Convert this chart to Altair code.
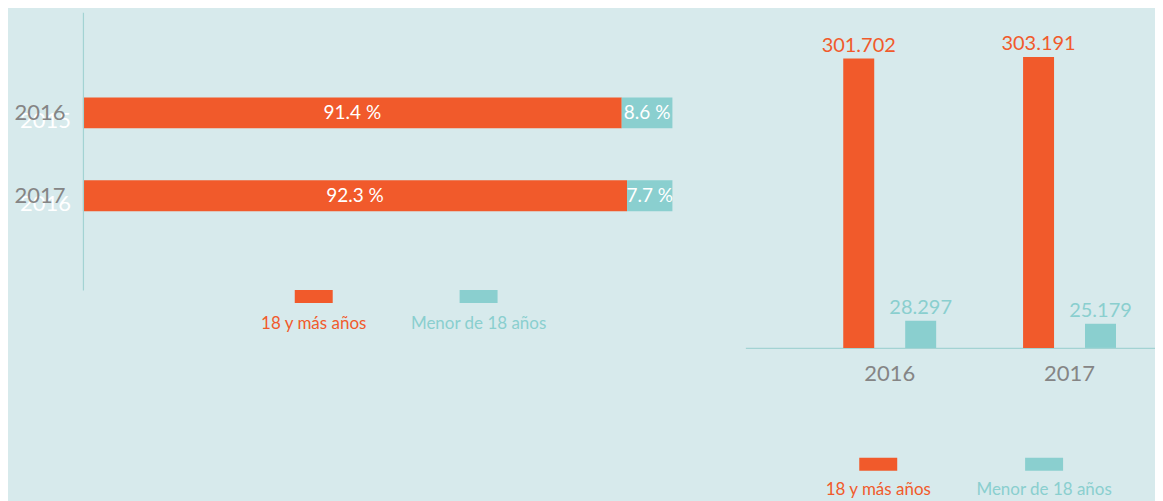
import altair as alt
import pandas as pd

# ---------------- data ----------------
years = ["2016", "2017"]
ghost_years = ["2015", "2016"]
pct_adult = [91.4, 92.3]
pct_minor = [8.6, 7.7]
count_adult = [301702, 303191]
count_minor = [28297, 25179]
groups = ["18 y más años", "Menor de 18 años"]
colors = ["#F15A2B", "#8ACFCF"]

BG = "#D7EAEC"
GREY = "#858585"
AXIS = "#A3D3D3"
FONT = "Lato"

color_scale = alt.Scale(domain=groups, range=colors)

# ---------------- left: 100% stacked bars ----------------
rows = []
for i, y in enumerate(years):
    a, m = pct_adult[i], pct_minor[i]
    rows.append({"year": y, "group": groups[0], "start": 0.0, "end": a,
                 "mid": a / 2, "label": f"{a:.1f} %"})
    rows.append({"year": y, "group": groups[1], "start": a, "end": a + m,
                 "mid": a + m / 2, "label": f"{m:.1f} %"})
pct_df = pd.DataFrame(rows)
ghost_df = pd.DataFrame({"year": years, "ghost": ghost_years})

y_left = alt.Y(
    "year:N",
    sort=years,
    scale=alt.Scale(paddingInner=0.627, paddingOuter=0.988, align=0.52),
    axis=alt.Axis(title=None, domain=True, domainColor=AXIS, domainWidth=1.2,
                  ticks=False, labelColor=GREY, labelFontSize=22,
                  labelPadding=18, labelFont=FONT, zindex=1),
)
x_left = alt.X("start:Q", scale=alt.Scale(domain=[0, 100]), axis=None)

left_bars = alt.Chart(pct_df).mark_bar().encode(
    y=y_left, x=x_left, x2="end:Q",
    color=alt.Color("group:N", scale=color_scale, legend=None),
)
left_text = alt.Chart(pct_df).mark_text(
    color="white", fontSize=19, font=FONT, baseline="middle"
).encode(y=alt.Y("year:N", sort=years), x=alt.X("mid:Q"), text="label:N")
ghost = alt.Chart(ghost_df).mark_text(
    color="white", fontSize=22, font=FONT, align="right", baseline="middle", dy=8
).encode(y=alt.Y("year:N", sort=years), x=alt.value(-12), text="ghost:N")

left_chart = alt.layer(ghost, left_bars, left_text).properties(width=590, height=278)

legend_df = pd.DataFrame({"group": groups})
SWATCH = "M-1,-0.342L1,-0.342L1,0.342L-1,0.342Z"


def legend(width, rng, ty):
    x = alt.X("group:N", sort=groups, axis=None,
              scale=alt.Scale(type="point", domain=groups, range=rng, padding=0))
    sw = alt.Chart(legend_df).mark_point(
        shape=SWATCH, size=1444, filled=True, opacity=1
    ).encode(x=x, y=alt.value(6.5),
             color=alt.Color("group:N", scale=color_scale, legend=None))
    tx = alt.Chart(legend_df).mark_text(
        fontSize=17, font=FONT, baseline="middle"
    ).encode(x=x, y=alt.value(ty), text="group:N",
             color=alt.Color("group:N", scale=color_scale, legend=None))
    return alt.layer(sw, tx).properties(width=width, height=45)


left_col = alt.vconcat(left_chart, legend(590, [231, 396], 34), spacing=0)

# ---------------- right: grouped bars ----------------
crow = []
for i, y in enumerate(years):
    crow.append({"year": y, "group": groups[0], "value": count_adult[i]})
    crow.append({"year": y, "group": groups[1], "value": count_minor[i]})
cnt_df = pd.DataFrame(crow)
cnt_df["label"] = cnt_df["value"].map(lambda v: f"{v:,}".replace(",", "."))

x_right = alt.X(
    "year:N", sort=years,
    scale=alt.Scale(paddingInner=0.311, paddingOuter=0.2945, align=0.778),
    axis=alt.Axis(title=None, domain=True, domainColor=AXIS, domainWidth=1.2,
                  ticks=False, labelColor=GREY, labelFontSize=22, labelAngle=0,
                  labelPadding=16, labelFont=FONT),
)
xoff = alt.XOffset("group:N", sort=groups,
                   scale=alt.Scale(paddingInner=0.5, paddingOuter=0.25))
y_right = alt.Y("value:Q", scale=alt.Scale(domain=[0, 350000]), axis=None)

r_bars = alt.Chart(cnt_df).mark_bar().encode(
    x=x_right, xOffset=xoff, y=y_right,
    color=alt.Color("group:N", scale=color_scale, legend=None),
)
r_text = alt.Chart(cnt_df).mark_text(
    fontSize=20, font=FONT, baseline="bottom", dy=-3
).encode(
    x=x_right, xOffset=xoff, y=y_right, text="label:N",
    color=alt.Color("group:N", scale=color_scale, legend=None),
)
right_chart = alt.layer(r_bars, r_text).properties(width=410, height=336)
right_col = alt.vconcat(right_chart, legend(410, [133, 299], 32), spacing=73)

chart = alt.hconcat(left_col, right_col, spacing=72).properties(
    background=BG,
    padding={"left": 5, "top": 4, "right": 0, "bottom": 0},
    usermeta={"embedOptions": {"defaultStyle": "body{background:#D7EAEC;}"}},
).configure(font=FONT).configure_view(stroke=None, strokeWidth=0)

chart.save("out.html", embed_options={"renderer": "svg", "actions": False})
